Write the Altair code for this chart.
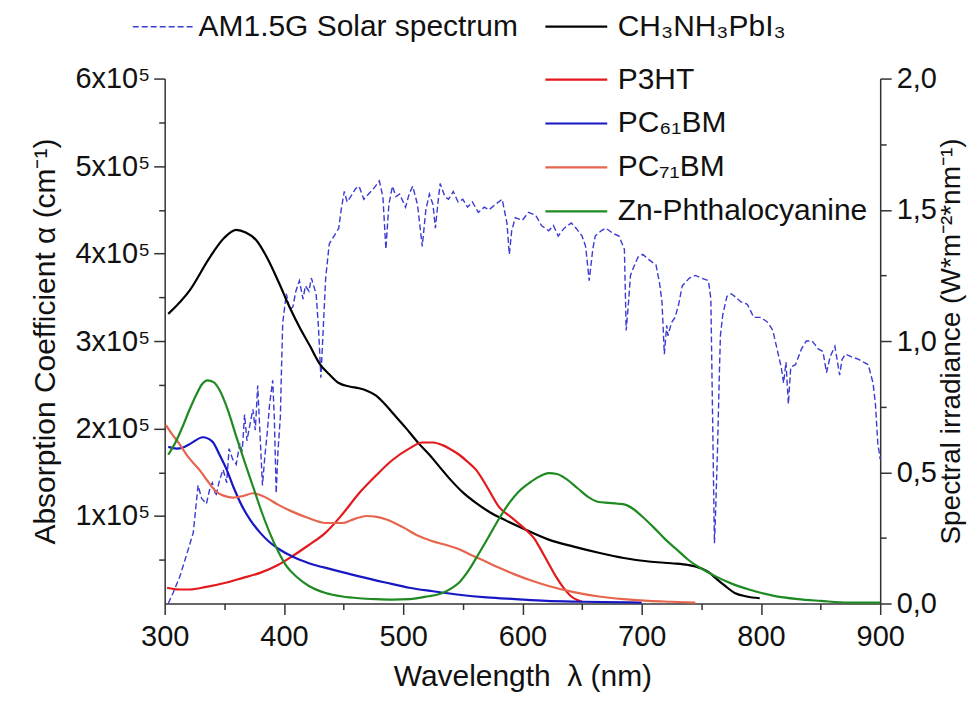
import altair as alt
import pandas as pd

# ---------------- data ----------------
solar_name = "AM1.5G Solar spectrum"
solar_wl = [303, 307, 312.5, 318, 324, 328, 331, 335, 338, 340, 343, 346, 349, 352, 354, 357, 360, 363, 365,
            367, 369, 371, 374, 376, 378, 380, 382, 384, 386, 388, 390.6, 392, 393.5, 395, 397, 398, 399, 402,
            405, 407.5, 410, 413, 416, 418, 421, 423, 427, 429, 431, 433, 435, 438, 442, 446, 448, 450.6, 453,
            456, 460, 463, 467, 471, 475, 480, 483, 485.5, 488, 491, 494, 497, 502, 505, 508, 512, 516, 519,
            522, 525, 527, 529, 531, 535, 538, 542, 546, 550, 554, 558, 563, 568, 572, 577, 583, 587, 589, 591,
            594, 600, 605, 611, 616, 622, 626, 630, 635, 641, 645, 650, 653, 656, 659, 661, 666, 670, 676, 681,
            685.5, 687, 689, 690.6, 694, 697, 701, 706, 712, 715, 717, 719, 721, 722, 725, 728, 731, 734, 740,
            745, 750, 756, 758, 759.5, 761, 762, 763.6, 765, 766, 768, 771.5, 775, 778, 783, 788.6, 794, 800,
            806, 810, 812, 815, 817, 819, 821, 823, 825, 829, 834, 838, 843, 848, 852, 855, 858, 862, 866, 868,
            871, 876, 882, 886, 890, 894, 896, 898, 900]
solar_irr = [0.00, 0.04, 0.10, 0.18, 0.27, 0.45, 0.40, 0.38, 0.44, 0.46, 0.41, 0.47, 0.51, 0.46, 0.59, 0.55,
             0.53, 0.61, 0.58, 0.72, 0.62, 0.67, 0.74, 0.66, 0.83, 0.64, 0.45, 0.56, 0.65, 0.76, 0.85, 0.70,
             0.42, 0.58, 0.71, 0.90, 1.07, 1.18, 1.12, 1.13, 1.19, 1.23, 1.16, 1.21, 1.19, 1.24, 1.18, 1.05,
             0.86, 1.05, 1.24, 1.37, 1.40, 1.43, 1.50, 1.57, 1.53, 1.55, 1.58, 1.59, 1.54, 1.56, 1.58, 1.61,
             1.55, 1.35, 1.52, 1.59, 1.55, 1.56, 1.51, 1.56, 1.59, 1.52, 1.36, 1.50, 1.56, 1.52, 1.43, 1.52,
             1.60, 1.55, 1.54, 1.57, 1.53, 1.54, 1.51, 1.53, 1.49, 1.51, 1.50, 1.52, 1.54, 1.45, 1.33, 1.42,
             1.47, 1.46, 1.49, 1.48, 1.44, 1.42, 1.44, 1.40, 1.43, 1.45, 1.43, 1.40, 1.36, 1.23, 1.35, 1.40,
             1.42, 1.43, 1.41, 1.40, 1.35, 1.04, 1.15, 1.25, 1.29, 1.32, 1.33, 1.31, 1.29, 1.22, 1.15, 0.95,
             1.06, 1.02, 1.07, 1.09, 1.14, 1.21, 1.24, 1.25, 1.24, 1.23, 1.16, 0.70, 0.23, 0.35, 0.59, 0.85,
             1.02, 1.10, 1.17, 1.18, 1.17, 1.15, 1.14, 1.09, 1.09, 1.07, 1.04, 1.00, 0.94, 0.90, 0.84, 0.92,
             0.76, 0.90, 0.91, 0.97, 1.00, 1.00, 0.97, 0.96, 0.88, 0.94, 0.98, 0.87, 0.93, 0.95, 0.94, 0.93,
             0.92, 0.91, 0.84, 0.76, 0.61, 0.55]

# absorption coefficients in units of 1e5 cm^-1
mapi_name = "CH₃NH₃PbI₃"
mapi_wl = [303, 321, 338, 350, 360, 368, 377, 386, 396, 405, 413, 422, 430, 438, 446, 455, 463, 470, 477, 484,
           491, 502, 513, 522, 530, 540, 550, 561, 573, 586, 600, 622, 643, 664, 685, 706, 725, 739, 750, 757,
           762, 770, 778, 788, 799]
mapi_a = [3.31, 3.58, 3.96, 4.18, 4.27, 4.24, 4.15, 3.95, 3.66, 3.38, 3.16, 2.94, 2.74, 2.62, 2.52, 2.48, 2.46,
          2.43, 2.38, 2.29, 2.18, 2.01, 1.83, 1.70, 1.57, 1.41, 1.27, 1.15, 1.04, 0.95, 0.86, 0.73, 0.65, 0.58,
          0.52, 0.48, 0.46, 0.44, 0.40, 0.35, 0.29, 0.20, 0.12, 0.08, 0.06]

p3ht_name = "P3HT"
p3ht_wl = [302, 312, 321, 335, 352, 365, 380, 395, 407, 420, 435, 449, 463, 477, 491, 505, 516, 525, 533, 540,
           547, 554, 561, 570, 580, 592, 603, 610, 614, 621, 628, 635, 641, 646, 650]
p3ht_a = [0.18, 0.16, 0.16, 0.19, 0.24, 0.29, 0.35, 0.44, 0.54, 0.66, 0.81, 1.02, 1.26, 1.46, 1.64, 1.77, 1.84,
          1.84, 1.81, 1.76, 1.70, 1.62, 1.53, 1.34, 1.11, 0.97, 0.84, 0.74, 0.65, 0.48, 0.31, 0.17, 0.08, 0.04,
          0.02]

pc61_name = "PC₆₁BM"
pc61_wl = [303, 310, 315, 322, 332, 340, 346, 352, 358, 365, 372, 380, 388, 396, 408, 421, 440, 463, 485, 505,
           525, 547, 570, 594, 620, 650, 700]
pc61_a = [1.79, 1.77, 1.78, 1.83, 1.90, 1.85, 1.70, 1.53, 1.32, 1.11, 0.95, 0.81, 0.70, 0.62, 0.53, 0.46, 0.39,
          0.31, 0.24, 0.18, 0.14, 0.10, 0.07, 0.05, 0.03, 0.02, 0.01]

pc71_name = "PC₇₁BM"
pc71_wl = [301, 306, 312, 320, 329, 336, 343, 350, 357, 366, 374, 380, 385, 395, 407, 420, 435, 449, 460, 469,
           478, 486, 500, 513, 525, 538, 547, 556, 566, 580, 594, 608, 622, 643, 664, 685, 706, 725, 745]
pc71_a = [2.04, 1.94, 1.83, 1.67, 1.53, 1.40, 1.28, 1.23, 1.21, 1.23, 1.26, 1.24, 1.21, 1.13, 1.05, 0.98, 0.92,
          0.92, 0.97, 1.00, 0.99, 0.96, 0.87, 0.77, 0.71, 0.66, 0.62, 0.56, 0.50, 0.41, 0.33, 0.26, 0.20, 0.13,
          0.08, 0.05, 0.03, 0.02, 0.01]

znpc_name = "Zn-Phthalocyanine"
znpc_wl = [303, 309, 315, 321, 327, 331, 336, 341, 346, 353, 360, 367, 374, 381, 388, 395, 402, 411, 421, 435,
           449, 463, 477, 491, 505, 520, 533, 540, 547, 555, 563, 572, 580, 589, 597, 606, 614, 622, 629, 636,
           646, 656, 664, 672, 680, 686, 693, 700, 710, 720, 730, 739, 750, 762, 775, 790, 810, 831, 850, 873,
           900]
znpc_a = [1.70, 1.84, 2.02, 2.22, 2.40, 2.50, 2.55, 2.53, 2.44, 2.21, 1.91, 1.62, 1.34, 1.06, 0.81, 0.60, 0.43,
          0.30, 0.20, 0.12, 0.08, 0.06, 0.05, 0.045, 0.05, 0.08, 0.12, 0.17, 0.24, 0.38, 0.56, 0.77, 0.96, 1.15,
          1.28, 1.38, 1.45, 1.49, 1.48, 1.43, 1.32, 1.21, 1.16, 1.15, 1.14, 1.13, 1.08, 1.00, 0.87, 0.73, 0.61,
          0.50, 0.40, 0.31, 0.23, 0.16, 0.09, 0.05, 0.03, 0.01, 0.01]

other_names = [p3ht_name, pc61_name, pc71_name, znpc_name]
other_colors = ["#e3191c", "#1717c4", "#e6654e", "#1f8a22"]
solar_color = "#3a3ad4"

# ---------------- frames ----------------
solar_df = pd.DataFrame({"wl": solar_wl, "irr": solar_irr, "name": solar_name})
mapi_df = pd.DataFrame({"wl": mapi_wl, "alpha": mapi_a, "name": mapi_name})
others_df = pd.concat([
    pd.DataFrame({"wl": p3ht_wl, "alpha": p3ht_a, "name": p3ht_name}),
    pd.DataFrame({"wl": pc61_wl, "alpha": pc61_a, "name": pc61_name}),
    pd.DataFrame({"wl": pc71_wl, "alpha": pc71_a, "name": pc71_name}),
    pd.DataFrame({"wl": znpc_wl, "alpha": znpc_a, "name": znpc_name}),
], ignore_index=True)

FONT = "Liberation Sans, Arial, Helvetica, sans-serif"
MAJOR, MINOR = 11, 6

x_enc = alt.X("wl:Q", scale=alt.Scale(domain=[300, 900], nice=False, zero=False),
              axis=alt.Axis(title="Wavelength\u00a0\u00a0λ (nm)", values=list(range(300, 901, 50)), format="d",
                            labelExpr="datum.value % 100 == 0 ? datum.label : ''",
                            tickSize={"condition": {"test": "datum.value % 100 == 0", "value": MAJOR}, "value": MINOR},
                            labelFlush=False, labelOverlap=False, labelPadding=8, titlePadding=10))

y_left = alt.Y("alpha:Q", scale=alt.Scale(domain=[0, 6], nice=False),
               axis=alt.Axis(orient="left", title="Absorption Coefficient α (cm⁻¹)",
                             values=[v / 2 for v in range(1, 13)],
                             labelExpr="datum.value >= 1 && datum.value % 1 == 0 ? format(datum.value, 'd') + 'x10⁵' : ''",
                             tickSize={"condition": {"test": "datum.value % 1 == 0", "value": MAJOR}, "value": MINOR},
                             labelFlush=False, labelOverlap=False, labelPadding=4, titlePadding=14))

y_right = alt.Y("irr:Q", scale=alt.Scale(domain=[0, 2], nice=False),
                axis=alt.Axis(orient="right", title="Spectral irradiance (W*m⁻²*nm⁻¹)",
                              values=[v / 4 for v in range(0, 9)],
                              labelExpr="datum.value % 0.5 == 0 ? replace(format(datum.value, '.1f'), '.', ',') : ''",
                              tickSize={"condition": {"test": "datum.value % 0.5 == 0", "value": MAJOR}, "value": MINOR},
                              labelFlush=False, labelOverlap=False, labelPadding=5, titlePadding=1,
                              titleAngle=270, titleBaseline="top", titleFontSize=28))

leg_common = dict(orient="none", title=None, symbolType="stroke", labelFont=FONT, labelFontSize=30,
                  labelColor="#111", labelLimit=600, clipHeight=42, padding=0, direction="vertical")

solar_layer = alt.Chart(solar_df).mark_line(color=solar_color, strokeWidth=1.4).encode(
    x=x_enc, y=y_right,
    strokeDash=alt.StrokeDash("name:N", scale=alt.Scale(domain=[solar_name], range=[[6, 3]]),
                              legend=alt.Legend(legendX=-33, legendY=-73, symbolSize=3600, labelOffset=5,
                                                symbolStrokeColor=solar_color, symbolStrokeWidth=1.4,
                                                **leg_common)),
)

mapi_layer = alt.Chart(mapi_df).mark_line(color="black", interpolate="monotone").encode(
    x=x_enc, y=y_left,
    strokeWidth=alt.StrokeWidth("name:N", scale=alt.Scale(domain=[mapi_name], range=[2.2, 2.2]),
                                legend=alt.Legend(legendX=380, legendY=-73, symbolSize=3844, labelOffset=9,
                                                  symbolStrokeColor="black", **leg_common)),
)

others_layer = alt.Chart(others_df).mark_line(strokeWidth=2.2, interpolate="monotone").encode(
    x=x_enc, y=y_left,
    color=alt.Color("name:N", scale=alt.Scale(domain=other_names, range=other_colors),
                    legend=alt.Legend(legendX=380, legendY=-20, symbolSize=3844, labelOffset=9,
                                      symbolStrokeWidth=2.2, rowPadding=2, **leg_common)),
)

chart = alt.layer(solar_layer, alt.layer(mapi_layer, others_layer)).resolve_scale(
    y="independent"
).properties(
    width=717, height=526,
    padding={"left": 157, "top": 70, "right": 92, "bottom": 96},
    autosize=alt.AutoSizeParams(type="none"),
).configure_view(stroke=None).configure_axis(
    grid=False, labelFont=FONT, titleFont=FONT, labelFontSize=29, titleFontSize=30,
    titleFontWeight="normal", labelColor="#111", titleColor="#111",
    domainColor="#333", domainWidth=1.5, tickColor="#333", tickWidth=1.5,
)

chart.save("out.html", embed_options={"renderer": "svg", "actions": False})
